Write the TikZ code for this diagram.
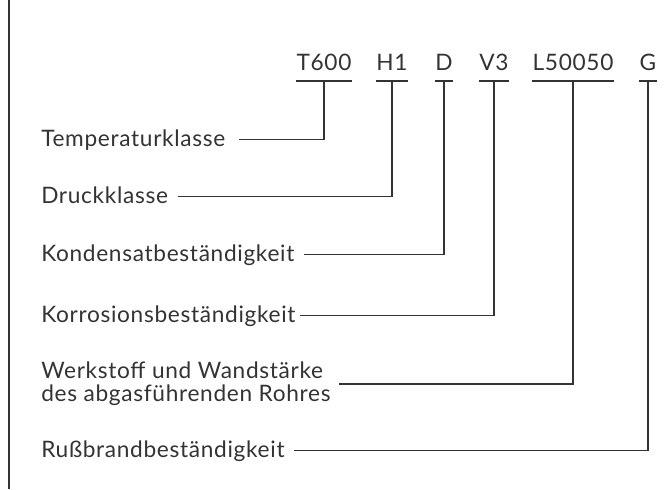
\documentclass[tikz,border=0pt]{standalone}
\usepackage{fontspec}
\setmainfont{Lato}[LetterSpace=3]
\usetikzlibrary{positioning}
\definecolor{ink}{HTML}{333333}
\tikzstyle{code} = [inner xsep=0pt, inner ysep=7.5pt, anchor=south, text depth=0pt,
    font=\fontsize{17}{17}\selectfont, text=ink]
\tikzstyle{desc} = [inner sep=0pt, anchor=base west, align=left,
    font=\fontsize{17}{17}\selectfont, text=ink]
\tikzstyle{line} = [draw=ink, line width=1pt]

\begin{document}
\begin{tikzpicture}[x=0.75pt,y=-0.75pt]
    \useasboundingbox (0,0) rectangle (667,489);
    \draw[line] (9,0) -- (9,489);
    % Place nodes
    \node[code] (t600) at (324,81) {T600};
    \node[code] (h1) at (392,81) {H1};
    \node[code] (d) at (444,81) {D};
    \node[code] (v3) at (494,81) {V3};
    \node[code] (l50050) at (573,81) {L50050};
    \node[code] (g) at (648,81) {G};
    \node[desc] (temp) at (41,146) {Temperaturklasse};
    \node[desc] (druck) at (41,203) {Druckklasse};
    \node[desc] (kond) at (41,261) {Kondensatbeständigkeit};
    \node[desc] (korr) at (41,322) {Korrosionsbeständigkeit};
    \node[desc, anchor=west] (werk) at (41,384) {Werkstoff und Wandstärke\\des abgasführenden Rohres};
    \node[desc] (russ) at (41,457) {Rußbrandbeständigkeit};
    % Draw edges
    \foreach \c in {t600,h1,d,v3,l50050,g}
        \path[line] (\c.south west) -- (\c.south east);
    \path[line] (t600.south) |- ([xshift=10pt,yshift=5pt]temp.base east);
    \path[line] (h1.south) |- ([xshift=7pt,yshift=5pt]druck.base east);
    \path[line] (d.south) |- ([xshift=7pt,yshift=5pt]kond.base east);
    \path[line] (v3.south) |- ([xshift=3pt,yshift=5pt]korr.base east);
    \path[line] (l50050.south) |- ([xshift=6pt]werk.east);
    \path[line] (g.south) |- ([xshift=7pt,yshift=5pt]russ.base east);
\end{tikzpicture}
\end{document}
